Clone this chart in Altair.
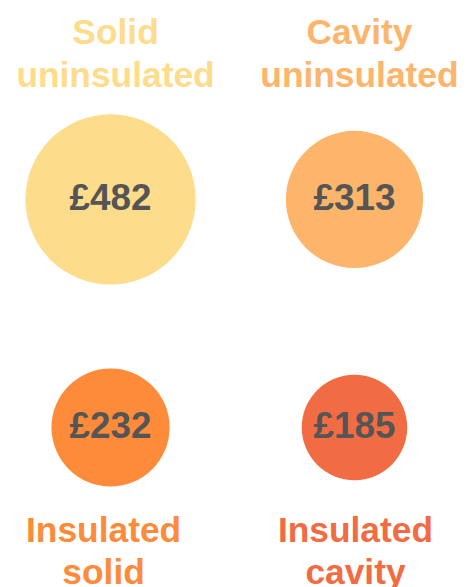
import altair as alt
import pandas as pd

categories = ["Solid uninsulated", "Cavity uninsulated", "Insulated solid", "Insulated cavity"]
label_lines = ["Solid\nuninsulated", "Cavity\nuninsulated", "Insulated\nsolid", "Insulated\ncavity"]
values = [482, 313, 232, 185]
colors = ["#FDDC8C", "#FDB46B", "#FD8B3A", "#F26C43"]

cols = [i % 2 for i in range(len(categories))]
rows = [i // 2 for i in range(len(categories))]

df = pd.DataFrame({
    "category": categories,
    "label": label_lines,
    "value": values,
    "valtext": ["£" + str(v) for v in values],
    "col": cols,
    "row": rows,
})

# layout: pixel nudges of the category labels relative to their circles
label_dx_px = {"Solid uninsulated": 5, "Cavity uninsulated": 5, "Insulated solid": -7, "Insulated cavity": 1}
COL_STEP = 245
ROW_STEP = 229
W, H = 451, 579

x_scale = alt.Scale(domain=[-103 / COL_STEP, -103 / COL_STEP + W / COL_STEP], nice=False, zero=False)
y_scale = alt.Scale(domain=[-191 / ROW_STEP, -191 / ROW_STEP + H / ROW_STEP], nice=False, zero=False, reverse=True)
color_scale = alt.Scale(domain=categories, range=colors)

base = alt.Chart(df).encode(
    x=alt.X("col:Q", scale=x_scale, axis=None),
    y=alt.Y("row:Q", scale=y_scale, axis=None),
)

d_max = 171  # diameter of the largest circle in px (Vega symbol size = diameter^2)
circles = base.mark_circle(opacity=1).encode(
    size=alt.Size("value:Q", scale=alt.Scale(domain=[0, max(values)], range=[0, d_max ** 2], nice=False), legend=None),
    color=alt.Color("category:N", scale=color_scale, legend=None),
)

vals = base.mark_text(font="Liberation Sans", fontWeight="bold", fontSize=37, color="#555555",
                      baseline="middle", align="center").encode(text="valtext:N")

dx_expr = " : ".join(
    [f"datum.category === '{k}' ? {v / COL_STEP}" for k, v in label_dx_px.items()]
) + " : 0"

label_base = alt.Chart(df).transform_calculate(lx=f"datum.col + ({dx_expr})").encode(
    x=alt.X("lx:Q", scale=x_scale, axis=None),
    y=alt.Y("row:Q", scale=y_scale, axis=None),
    text="label:N",
    color=alt.Color("category:N", scale=color_scale, legend=None),
)

top_labels = label_base.transform_filter("datum.row == 0").mark_text(
    font="Liberation Sans", fontWeight="bold", fontSize=35.5, lineHeight=43, lineBreak="\n",
    baseline="alphabetic", align="center", dy=-156,
)

bottom_labels = label_base.transform_filter("datum.row == 1").mark_text(
    font="Liberation Sans", fontWeight="bold", fontSize=35.5, lineHeight=42, lineBreak="\n",
    baseline="alphabetic", align="center", dy=115,
)

chart = alt.layer(circles, vals, top_labels, bottom_labels).properties(
    width=W, height=H, padding=0, background="white"
).configure_view(strokeWidth=0, stroke="transparent")

chart.save("out.html", embed_options={"renderer": "svg", "actions": False})
